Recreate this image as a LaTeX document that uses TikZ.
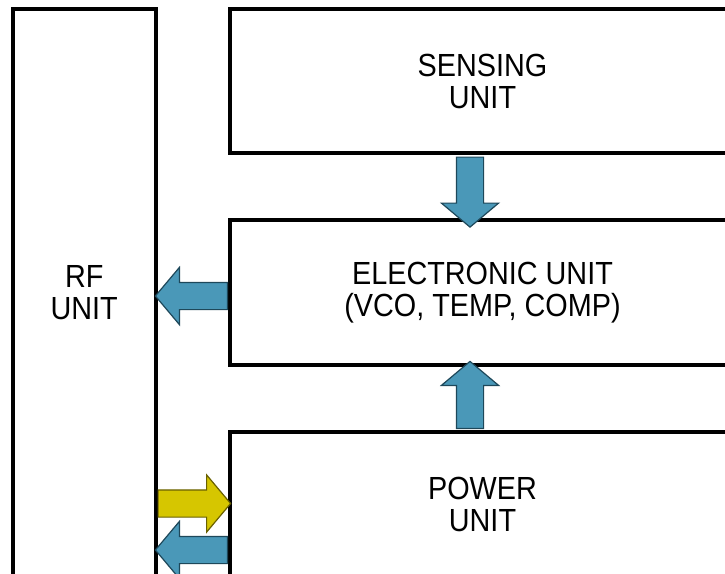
\documentclass[tikz,border=0pt]{standalone}
\usepackage{fontspec}
\setmainfont[FakeStretch=0.9]{Liberation Sans}
\usetikzlibrary{shapes.arrows,calc}

\definecolor{arrowblue}{RGB}{74,152,184}
\definecolor{arrowblueline}{RGB}{30,72,90}
\definecolor{arrowyellow}{RGB}{214,198,0}
\definecolor{arrowyellowline}{RGB}{105,96,0}

\tikzset{
  unit/.style={draw=black, line width=4pt, fill=white, inner sep=0pt,
    align=center, font=\fontsize{32}{32}\selectfont},
  blockarrow/.style={single arrow, draw, line width=1.2pt, inner sep=13pt,
    minimum width=56pt, single arrow head extend=15pt,
    single arrow tip angle=100, single arrow head indent=0pt},
  bluearrow/.style={blockarrow, fill=arrowblue, draw=arrowblueline},
  yellowarrow/.style={blockarrow, fill=arrowyellow, draw=arrowyellowline}
}

\begin{document}
\begin{tikzpicture}[x=1pt, y=-1pt]
    \useasboundingbox (0,0) rectangle (725,573);
    \clip (0,0) rectangle (725,573);

    % Units
    \node[unit, minimum width=142.5pt, minimum height=567pt] (rf) at (84.25,292.5) {RF\\UNIT};
    \node[unit, minimum width=505pt, minimum height=144pt] (sense) at (482.5,81) {SENSING\\UNIT};
    \node[unit, minimum width=505pt, minimum height=145pt] (elec) at (482.5,292.5) {ELECTRONIC UNIT\\(VCO, TEMP, COMP)};
    \node[unit, minimum width=505pt, minimum height=144pt] (power) at (482.5,504) {POWER\\UNIT};

    % Sensing -> electronic
    \node[bluearrow, shape border rotate=270, minimum height=70pt, anchor=tail] (sens2elec)
        at ($(sense.south)+(-12.5,1.5)$) {};

    % Power -> electronic
    \node[bluearrow, shape border rotate=90, minimum height=67pt, anchor=tail] (pow2elec)
        at ($(power.north)+(-12.5,-1)$) {};

    % Electronic -> RF
    \node[bluearrow, shape border rotate=180, minimum height=72pt, anchor=tail] (elec2rf)
        at ($(elec.west)+(0,3.5)$) {};

    % RF -> power, power -> RF
    \node[yellowarrow, minimum height=72.5pt, anchor=tail] (rf2pow)
        at ($(rf.east|-power.west)+(0,-0.5)$) {};
    \node[bluearrow, shape border rotate=180, minimum height=72pt, anchor=tail] (pow2rf)
        at ($(power.west)+(0,46)$) {};
\end{tikzpicture}
\end{document}
